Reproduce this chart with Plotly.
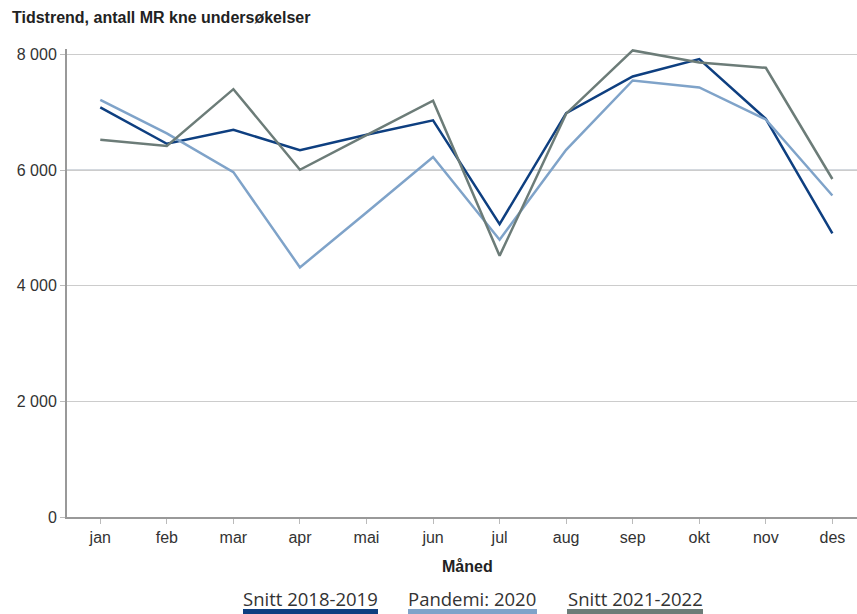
import plotly.graph_objects as go

months = ["jan", "feb", "mar", "apr", "mai", "jun", "jul", "aug", "sep", "okt", "nov", "des"]
snitt_2018_2019 = [7090, 6460, 6700, 6350, 6615, 6865, 5070, 6990, 7625, 7925, 6890, 4910]
pandemi_2020 = [7220, 6640, 5970, 4320, 5270, 6230, 4800, 6355, 7555, 7435, 6880, 5565]
snitt_2021_2022 = [6530, 6420, 7405, 6010, 6610, 7205, 4520, 6980, 8075, 7865, 7775, 5850]

series_names = ["Snitt 2018-2019", "Pandemi: 2020", "Snitt 2021-2022"]
series_values = [snitt_2018_2019, pandemi_2020, snitt_2021_2022]
series_colors = ["#0e3f80", "#7fa3c9", "#6c7c78"]

W, H = 857, 614
L, R, T, B = 67, 0, 49, 97
pw, ph = W - L - R, H - T - B


def px(x):
    return (x - L) / pw


def py(y):
    return (H - B - y) / ph


fig = go.Figure()
for name, vals, col in zip(series_names, series_values, series_colors):
    fig.add_trace(go.Scatter(x=list(range(len(months))), y=vals, mode="lines", name=name,
                             line=dict(color=col, width=2.5), showlegend=False))

# reference line at 6000
fig.add_shape(type="line", xref="paper", yref="y", x0=0, x1=1, y0=6000, y1=6000,
              line=dict(color="#a9b4bf", width=1.5), layer="below")

# custom legend: text with a thick bar underneath
legend_items = [(243, 378), (408, 537), (567, 703)]
for (x0, x1), name, col in zip(legend_items, series_names, series_colors):
    fig.add_annotation(xref="paper", yref="paper", x=px((x0 + x1) / 2), y=py(598),
                       text=name, showarrow=False, xanchor="center", yanchor="middle",
                       font=dict(family="Open Sans", size=18.5, color="#333333"))
    fig.add_shape(type="rect", xref="paper", yref="paper", x0=px(x0), x1=px(x1),
                  y0=py(614), y1=py(609), fillcolor=col, line=dict(width=0))

fig.add_annotation(xref="paper", yref="paper", x=px(10), y=py(17), text="<b>Tidstrend, antall MR kne undersøkelser</b>",
                   showarrow=False, xanchor="left", yanchor="middle",
                   font=dict(family="Liberation Sans", size=16, color="#222222"))

fig.add_annotation(xref="paper", yref="paper", x=px(467), y=py(566), text="<b>Måned</b>",
                   showarrow=False, xanchor="center", yanchor="middle",
                   font=dict(family="Liberation Sans", size=16, color="#222222"))

fig.update_layout(
    width=W, height=H,
    margin=dict(l=L, r=R, t=T, b=B),
    paper_bgcolor="white", plot_bgcolor="white",
    separators=", ",
    font=dict(family="Liberation Sans", size=16, color="#333333"),
    xaxis=dict(
        tickmode="array", tickvals=list(range(len(months))), ticktext=months,
        range=[-0.5, 11.37], showgrid=False, zeroline=False,
        showline=True, linecolor="#999999", linewidth=2,
        ticks="outside", ticklen=5, tickcolor="#bbbbbb", tickwidth=1,
        tickfont=dict(family="Liberation Sans", size=16, color="#333333"),
    ),
    yaxis=dict(
        range=[0, 8100], tickvals=[0, 2000, 4000, 6000, 8000], tickformat=",d",
        showgrid=True, gridcolor="#cccccc", gridwidth=1, zeroline=False,
        showline=True, linecolor="#999999", linewidth=2,
        ticks="outside", ticklen=5, tickcolor="#bbbbbb", tickwidth=1,
        tickfont=dict(family="Liberation Sans", size=16, color="#333333"),
    ),
)

fig.write_html("out.html")
